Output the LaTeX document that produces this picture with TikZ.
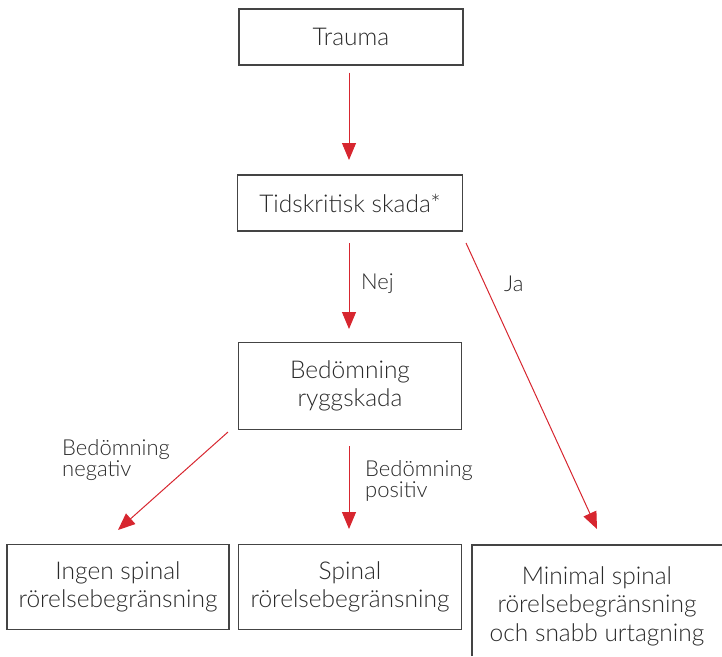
\documentclass[tikz,border=0pt]{standalone}
\usepackage{fontspec}
\setmainfont{Lato}[UprightFont=* Light]
\usetikzlibrary{arrows.meta}
\definecolor{arr}{HTML}{D7262F}
\definecolor{frame}{HTML}{444444}
\definecolor{txt}{HTML}{2A2A2A}
\begin{document}
\begin{tikzpicture}[x=1pt,y=-1pt,
  box/.style={draw=frame,line width=1.2pt,rectangle,align=center,inner sep=0pt,text=txt,font=\fontsize{24.5}{28.5}\selectfont},
  plain/.style={align=center,inner sep=0pt,text=txt,font=\fontsize{24.5}{28.5}\selectfont},
  lab/.style={align=left,inner sep=0pt,anchor=west,text=txt,font=\fontsize{22}{21}\selectfont},
  conn/.style={draw=arr,line width=1pt,-{Triangle[width=14pt,length=17pt]}}]
\useasboundingbox (0,0) rectangle (722,656);
\node[box,minimum width=224pt,minimum height=56pt] (trauma) at (351,37) {Trauma};
\node[box,minimum width=225pt,minimum height=56pt] (tid) at (350,203) {Tidskritisk skada*};
\node[box,minimum width=223pt,minimum height=87pt] (bed) at (350,386) {Bedömning\\ryggskada};
\node[box,minimum width=222pt,minimum height=85pt] (ingen) at (118,587) {Ingen spinal\\rörelsebegränsning};
\node[box,minimum width=223pt,minimum height=85pt] (spinal) at (350,587) {Spinal\\rörelsebegränsning};
\node[plain] (minimal) at (597,606) {Minimal spinal\\rörelsebegränsning\\och snabb urtagning};
\coordinate (rb) at (472,656);
\coordinate (rt) at (472,545);
\coordinate (rr) at (722,545);
\draw[draw=frame,line width=1.2pt] (rb) -- (rt) -- (rr);
\coordinate (jastart) at (466,243);
\coordinate (jaend) at (597,529);
\coordinate (negstart) at (228,432);
\coordinate (negend) at (118,530);
\draw[conn] (trauma.south -| 349,0) ++(0,7) -- (349,160);
\draw[conn] (349,243) -- (349,329);
\draw[conn] (jastart) -- (jaend);
\draw[conn] (negstart) -- (negend);
\draw[conn] (349,446) -- (349,529);
\node[lab] (nej) at (361,284) {Nej};
\node[lab] (ja) at (504,284) {Ja};
\node[lab] (neg) at (62,460) {Bedömning\\negativ};
\node[lab] (pos) at (365,481) {Bedömning\\positiv};
\end{tikzpicture}
\end{document}
